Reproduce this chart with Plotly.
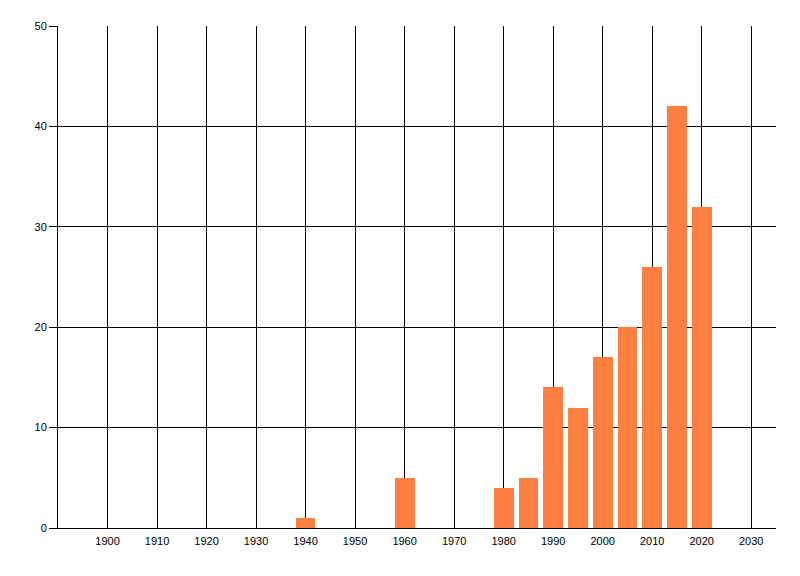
import plotly.graph_objects as go

years = [1940, 1960, 1980, 1985, 1990, 1995, 2000, 2005, 2010, 2015, 2020]
counts = [1, 5, 4, 5, 14, 12, 17, 20, 26, 42, 32]
x_ticks = list(range(1900, 2031, 10))
y_ticks = [0, 10, 20, 30, 40, 50]

fig = go.Figure(go.Bar(x=years, y=counts, width=4, marker=dict(color="#FF7F41", line=dict(width=0))))

fig.update_layout(
    width=800, height=576,
    margin=dict(l=50, r=32, t=18, b=56, autoexpand=False),
    paper_bgcolor="white", plot_bgcolor="white",
    font=dict(family="Liberation Sans, Arial, sans-serif", size=11, color="black"),
    showlegend=False,
    bargap=0,
)
fig.update_xaxes(
    range=[1890, 2035], tickvals=x_ticks, ticktext=[str(v) for v in x_ticks],
    showgrid=True, gridcolor="black", gridwidth=1,
    showline=True, linecolor="black", linewidth=1,
    ticks="", zeroline=False, ticklabelstandoff=3,
)
fig.update_yaxes(
    range=[0, 50], tickvals=y_ticks,
    showgrid=True, gridcolor="black", gridwidth=1,
    showline=True, linecolor="black", linewidth=1,
    ticks="outside", ticklen=8, tickcolor="black", tickwidth=1,
    zeroline=False,
)

fig.write_html("out.html")
